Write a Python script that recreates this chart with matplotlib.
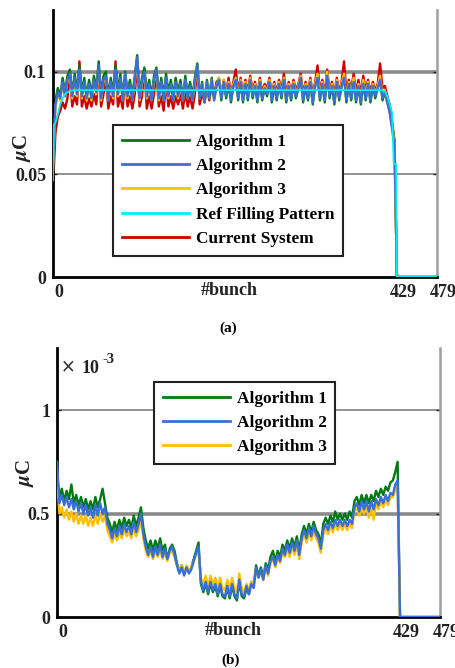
import numpy as np
import matplotlib.pyplot as plt
from matplotlib.transforms import ScaledTranslation

plt.rcParams['font.family'] = 'Liberation Serif'
plt.rcParams['font.weight'] = 'bold'
plt.rcParams['mathtext.fontset'] = 'stix'

# bunch index of sampled points (every 3rd bunch), then the empty gap 429..479
bunch = np.r_[np.arange(0, 429, 3), 429, 479]
tail = [0, 0]

# (a) charge per bunch, in 1e-3 uC
a_alg1 = [60, 86, 92, 88, 97, 90, 98, 101, 89, 99,
          91, 103, 90, 97, 88, 96, 89, 98, 92, 105,
          89, 98, 100, 88, 97, 90, 103, 91, 99, 88,
          100, 90, 96, 88, 98, 108, 89, 97, 102, 90,
          96, 88, 98, 102, 89, 97, 88, 99, 90, 96,
          88, 97, 90, 96, 87, 98, 89, 95, 88, 97,
          104, 88, 95, 86, 96, 88, 97, 87, 94, 97,
          86, 95, 87, 94, 85, 93, 97, 86, 95, 85,
          94, 86, 96, 87, 93, 85, 95, 86, 92, 88,
          95, 85, 93, 86, 94, 87, 96, 85, 93, 86,
          94, 87, 92, 97, 85, 93, 86, 95, 84, 93,
          98, 86, 94, 85, 99, 87, 93, 84, 95, 86,
          93, 98, 85, 94, 86, 96, 85, 93, 84, 95,
          86, 94, 85, 93, 87, 92, 97, 86, 90, 85,
          81, 74, 66]
a_alg2 = [55, 84, 90, 87, 95, 88, 96, 99, 88, 97,
          89, 101, 88, 95, 87, 94, 87, 96, 90, 103,
          87, 96, 98, 86, 95, 88, 101, 89, 97, 86,
          99, 88, 94, 86, 96, 107, 87, 95, 100, 88,
          94, 86, 96, 101, 87, 95, 86, 97, 88, 94,
          86, 95, 88, 94, 86, 96, 87, 93, 86, 95,
          103, 87, 94, 85, 95, 87, 96, 86, 93, 96,
          87, 95, 88, 94, 86, 93, 96, 87, 95, 86,
          94, 87, 96, 88, 93, 86, 95, 87, 92, 89,
          95, 86, 93, 87, 94, 88, 96, 86, 93, 87,
          94, 88, 92, 97, 86, 93, 87, 95, 85, 93,
          97, 87, 94, 86, 98, 88, 93, 85, 95, 87,
          93, 97, 86, 94, 87, 95, 86, 93, 85, 94,
          87, 94, 86, 93, 88, 92, 96, 87, 90, 85,
          80, 72, 64]
a_alg3 = [52, 82, 89, 86, 94, 88, 95, 98, 87, 96,
          88, 100, 87, 94, 86, 93, 86, 95, 89, 101,
          86, 95, 97, 86, 94, 87, 100, 88, 96, 86,
          98, 87, 93, 86, 95, 105, 86, 94, 99, 87,
          93, 86, 95, 100, 86, 94, 86, 96, 87, 93,
          86, 94, 87, 93, 86, 95, 87, 92, 86, 94,
          102, 87, 94, 86, 95, 87, 96, 86, 93, 97,
          88, 96, 89, 95, 87, 94, 97, 88, 96, 87,
          95, 88, 97, 89, 94, 87, 96, 88, 93, 90,
          96, 87, 94, 88, 95, 89, 97, 87, 94, 88,
          95, 89, 93, 98, 87, 94, 88, 96, 86, 94,
          99, 88, 95, 87, 100, 89, 94, 86, 96, 88,
          94, 99, 87, 95, 88, 97, 87, 94, 86, 96,
          88, 95, 87, 94, 89, 93, 98, 88, 91, 85,
          80, 73, 65]
a_current = [44, 70, 78, 81, 85, 82, 87, 100, 83, 88,
             84, 105, 83, 88, 82, 87, 83, 89, 84, 102,
             83, 89, 97, 82, 88, 84, 105, 83, 88, 82,
             98, 83, 88, 82, 89, 104, 83, 88, 101, 82,
             88, 82, 89, 100, 83, 88, 81, 95, 83, 88,
             82, 88, 84, 89, 82, 90, 83, 88, 82, 89,
             103, 84, 90, 85, 92, 86, 93, 88, 95, 96,
             89, 96, 90, 97, 89, 95, 101, 90, 97, 89,
             96, 90, 98, 91, 95, 89, 97, 90, 94, 92,
             97, 89, 95, 90, 96, 91, 99, 89, 95, 90,
             96, 91, 94, 99, 89, 95, 90, 97, 89, 95,
             103, 90, 96, 89, 101, 91, 95, 89, 97, 90,
             95, 105, 90, 96, 91, 99, 90, 96, 89, 98,
             91, 96, 90, 95, 91, 94, 104, 92, 93, 88,
             84, 76, 66]
ref_bunch = [0, 1, 3, 6, 9, 12, 15, 20, 26, 408, 414, 418, 423, 425, 428, 429, 479]
ref_pattern = [47, 74, 75, 79, 84, 87, 89, 90.5, 91, 91, 90.5, 87, 80, 55, 55, 0, 0]

# (b) charge per bunch, in units of 1e-3 uC
b_alg1 = [0.70, 0.58, 0.62, 0.56, 0.61, 0.57, 0.64, 0.55, 0.59, 0.54,
          0.58, 0.53, 0.57, 0.52, 0.56, 0.52, 0.58, 0.53, 0.57, 0.62,
          0.55, 0.48, 0.45, 0.41, 0.46, 0.42, 0.47, 0.43, 0.48, 0.44,
          0.47, 0.43, 0.49, 0.44, 0.48, 0.53, 0.43, 0.37, 0.33, 0.37,
          0.32, 0.37, 0.33, 0.38, 0.32, 0.35, 0.28, 0.33, 0.35, 0.32,
          0.26, 0.22, 0.25, 0.21, 0.24, 0.22, 0.24, 0.28, 0.32, 0.36,
          0.16, 0.12, 0.16, 0.11, 0.16, 0.12, 0.15, 0.10, 0.15, 0.10,
          0.09, 0.14, 0.09, 0.15, 0.10, 0.08, 0.17, 0.10, 0.09, 0.14,
          0.11, 0.17, 0.15, 0.25, 0.20, 0.24, 0.19, 0.26, 0.23, 0.29,
          0.32, 0.27, 0.32, 0.29, 0.35, 0.32, 0.37, 0.33, 0.38, 0.34,
          0.39, 0.32, 0.40, 0.44, 0.40, 0.45, 0.41, 0.46, 0.42, 0.40,
          0.35, 0.45, 0.48, 0.45, 0.49, 0.46, 0.51, 0.47, 0.50, 0.47,
          0.50, 0.47, 0.51, 0.48, 0.56, 0.58, 0.54, 0.59, 0.55, 0.59,
          0.55, 0.59, 0.56, 0.61, 0.58, 0.62, 0.59, 0.63, 0.61, 0.65,
          0.66, 0.70, 0.75]
b_alg2 = [0.75, 0.55, 0.59, 0.54, 0.58, 0.53, 0.57, 0.52, 0.56, 0.51,
          0.55, 0.50, 0.54, 0.49, 0.53, 0.48, 0.54, 0.49, 0.55, 0.50,
          0.53, 0.45, 0.42, 0.38, 0.43, 0.39, 0.44, 0.40, 0.45, 0.41,
          0.44, 0.40, 0.46, 0.41, 0.45, 0.50, 0.40, 0.34, 0.30, 0.34,
          0.29, 0.34, 0.30, 0.35, 0.29, 0.33, 0.28, 0.32, 0.34, 0.30,
          0.25, 0.21, 0.24, 0.20, 0.24, 0.21, 0.23, 0.27, 0.31, 0.34,
          0.17, 0.13, 0.17, 0.12, 0.17, 0.13, 0.16, 0.11, 0.16, 0.11,
          0.10, 0.15, 0.10, 0.16, 0.11, 0.09, 0.18, 0.11, 0.10, 0.15,
          0.11, 0.16, 0.14, 0.24, 0.19, 0.23, 0.18, 0.25, 0.21, 0.27,
          0.29, 0.25, 0.30, 0.27, 0.33, 0.30, 0.35, 0.31, 0.36, 0.32,
          0.37, 0.30, 0.38, 0.42, 0.38, 0.43, 0.39, 0.44, 0.40, 0.38,
          0.33, 0.42, 0.45, 0.42, 0.46, 0.43, 0.47, 0.44, 0.47, 0.44,
          0.47, 0.44, 0.47, 0.45, 0.53, 0.55, 0.51, 0.56, 0.52, 0.56,
          0.51, 0.56, 0.52, 0.57, 0.54, 0.58, 0.55, 0.59, 0.56, 0.60,
          0.59, 0.64, 0.66]
b_alg3 = [0.68, 0.50, 0.53, 0.48, 0.52, 0.47, 0.51, 0.46, 0.50, 0.45,
          0.49, 0.45, 0.49, 0.44, 0.48, 0.44, 0.49, 0.45, 0.50, 0.46,
          0.49, 0.42, 0.39, 0.36, 0.40, 0.37, 0.41, 0.38, 0.42, 0.39,
          0.41, 0.38, 0.43, 0.39, 0.42, 0.47, 0.38, 0.32, 0.29, 0.32,
          0.28, 0.32, 0.29, 0.33, 0.28, 0.31, 0.27, 0.31, 0.32, 0.29,
          0.25, 0.22, 0.25, 0.21, 0.25, 0.22, 0.24, 0.27, 0.30, 0.32,
          0.19, 0.16, 0.20, 0.15, 0.20, 0.16, 0.19, 0.14, 0.19, 0.14,
          0.13, 0.18, 0.13, 0.19, 0.14, 0.12, 0.21, 0.14, 0.12, 0.16,
          0.13, 0.17, 0.15, 0.23, 0.19, 0.22, 0.18, 0.24, 0.20, 0.26,
          0.28, 0.24, 0.29, 0.26, 0.31, 0.29, 0.33, 0.29, 0.34, 0.30,
          0.35, 0.28, 0.36, 0.40, 0.36, 0.41, 0.37, 0.42, 0.38, 0.36,
          0.31, 0.40, 0.43, 0.40, 0.44, 0.41, 0.45, 0.42, 0.45, 0.42,
          0.45, 0.42, 0.45, 0.43, 0.51, 0.53, 0.49, 0.53, 0.50, 0.54,
          0.48, 0.53, 0.47, 0.55, 0.52, 0.56, 0.53, 0.57, 0.54, 0.58,
          0.58, 0.61, 0.63]

GREEN = '#007a10'
BLUE = '#3a6fd8'
YELLOW = '#ffc000'
CYAN = '#00f0f0'
RED = '#cc0000'
INK = '#222222'
LW = 1.7

fig = plt.figure(figsize=(4.56, 6.68), dpi=100)
axa = fig.add_axes([53/456, 1-277/668, 384/456, 267/668])
axb = fig.add_axes([57/456, 1-617/668, 383/456, 269/668])


def style(ax, ymax, yticks, ylabels, thick, thin):
    ax.set_xlim(0, 479)
    ax.set_ylim(0, ymax)
    ax.spines['top'].set_visible(False)
    ax.spines['left'].set_linewidth(2)
    ax.spines['bottom'].set_linewidth(2)
    ax.spines['right'].set_color('#a0a0a0')
    ax.spines['right'].set_linewidth(1.8)
    ax.axhline(thick, color='#8a8a8a', lw=2.6, zorder=0.5)
    ax.axhline(thin, color='#8a8a8a', lw=1.3, zorder=0.5)
    ax.set_xticks([0, 429, 479])
    ax.set_xticklabels(['0', '429', '479'])
    ax.set_yticks(yticks)
    ax.set_yticklabels(ylabels)
    ax.tick_params(direction='in', length=3, width=1, labelsize=13, pad=5,
                   right=True, colors=INK)
    for lab in ax.get_xticklabels():
        lab.set_transform(lab.get_transform() + ScaledTranslation(0.06, 0, fig.dpi_scale_trans))
    ax.text(0.46, -0.05, '#bunch', transform=ax.transAxes, ha='center', va='center',
            fontsize=13, color=INK)


def legend(ax, handles, labels, anchor):
    leg = ax.legend(handles, labels, loc='upper left', bbox_to_anchor=anchor,
                    fontsize=12.4, handlelength=3.9, handletextpad=0.4,
                    labelspacing=0.48, fancybox=False, framealpha=1, borderpad=0.5,
                    borderaxespad=0)
    leg.get_frame().set_edgecolor(INK)
    leg.get_frame().set_linewidth(1.5)
    for h in leg.get_lines():
        h.set_linewidth(2)


# (a)
style(axa, 0.13, [0, 0.05, 0.1], ['0', '0.05', '0.1'], 0.1, 0.05)
l_cur, = axa.plot(bunch, np.array(a_current + tail) * 1e-3, color=RED, lw=LW, zorder=1)
l1, = axa.plot(bunch, np.array(a_alg1 + tail) * 1e-3, color=GREEN, lw=LW, zorder=2)
l3, = axa.plot(bunch, np.array(a_alg3 + tail) * 1e-3, color=YELLOW, lw=LW, zorder=3)
l2, = axa.plot(bunch, np.array(a_alg2 + tail) * 1e-3, color=BLUE, lw=LW, zorder=4)
lref, = axa.plot(ref_bunch, np.array(ref_pattern) * 1e-3, color=CYAN, lw=1.3, zorder=5)
legend(axa, [l1, l2, l3, lref, l_cur],
       ['Algorithm 1', 'Algorithm 2', 'Algorithm 3', 'Ref Filling Pattern', 'Current System'],
       (0.156, 0.569))

# (b)
style(axb, 1.3, [0, 0.5, 1], ['0', '0.5', '1'], 0.5, 1.0)
m1, = axb.plot(bunch, b_alg1 + tail, color=GREEN, lw=LW, zorder=2)
m3, = axb.plot(bunch, b_alg3 + tail, color=YELLOW, lw=LW, zorder=3)
m2, = axb.plot(bunch, b_alg2 + tail, color=BLUE, lw=LW, zorder=4)
legend(axb, [m1, m2, m3], ['Algorithm 1', 'Algorithm 2', 'Algorithm 3'], (0.253, 0.874))
axb.text(0.01, 0.93, r'$\times$', transform=axb.transAxes, fontsize=13,
         fontweight='normal', color='#333333', va='center')
axb.text(0.065, 0.922, '10', transform=axb.transAxes, fontsize=13, va='center', color=INK)
axb.text(0.12, 0.958, '-3', transform=axb.transAxes, fontsize=10.5, va='center', color=INK)

# y labels and captions
fig.text(22/456, 1-148/668, r'$\mu$C', rotation=90, ha='center', va='center',
         fontsize=15, color=INK)
fig.text(25/456, 1-473/668, r'$\mu$C', rotation=90, ha='center', va='center',
         fontsize=15, color=INK)
fig.text(0.5, 1-328/668, '(a)', ha='center', va='center', fontsize=11)
fig.text(0.505, 1-660/668, '(b)', ha='center', va='center', fontsize=11)

fig.savefig('out.png', dpi=100)
